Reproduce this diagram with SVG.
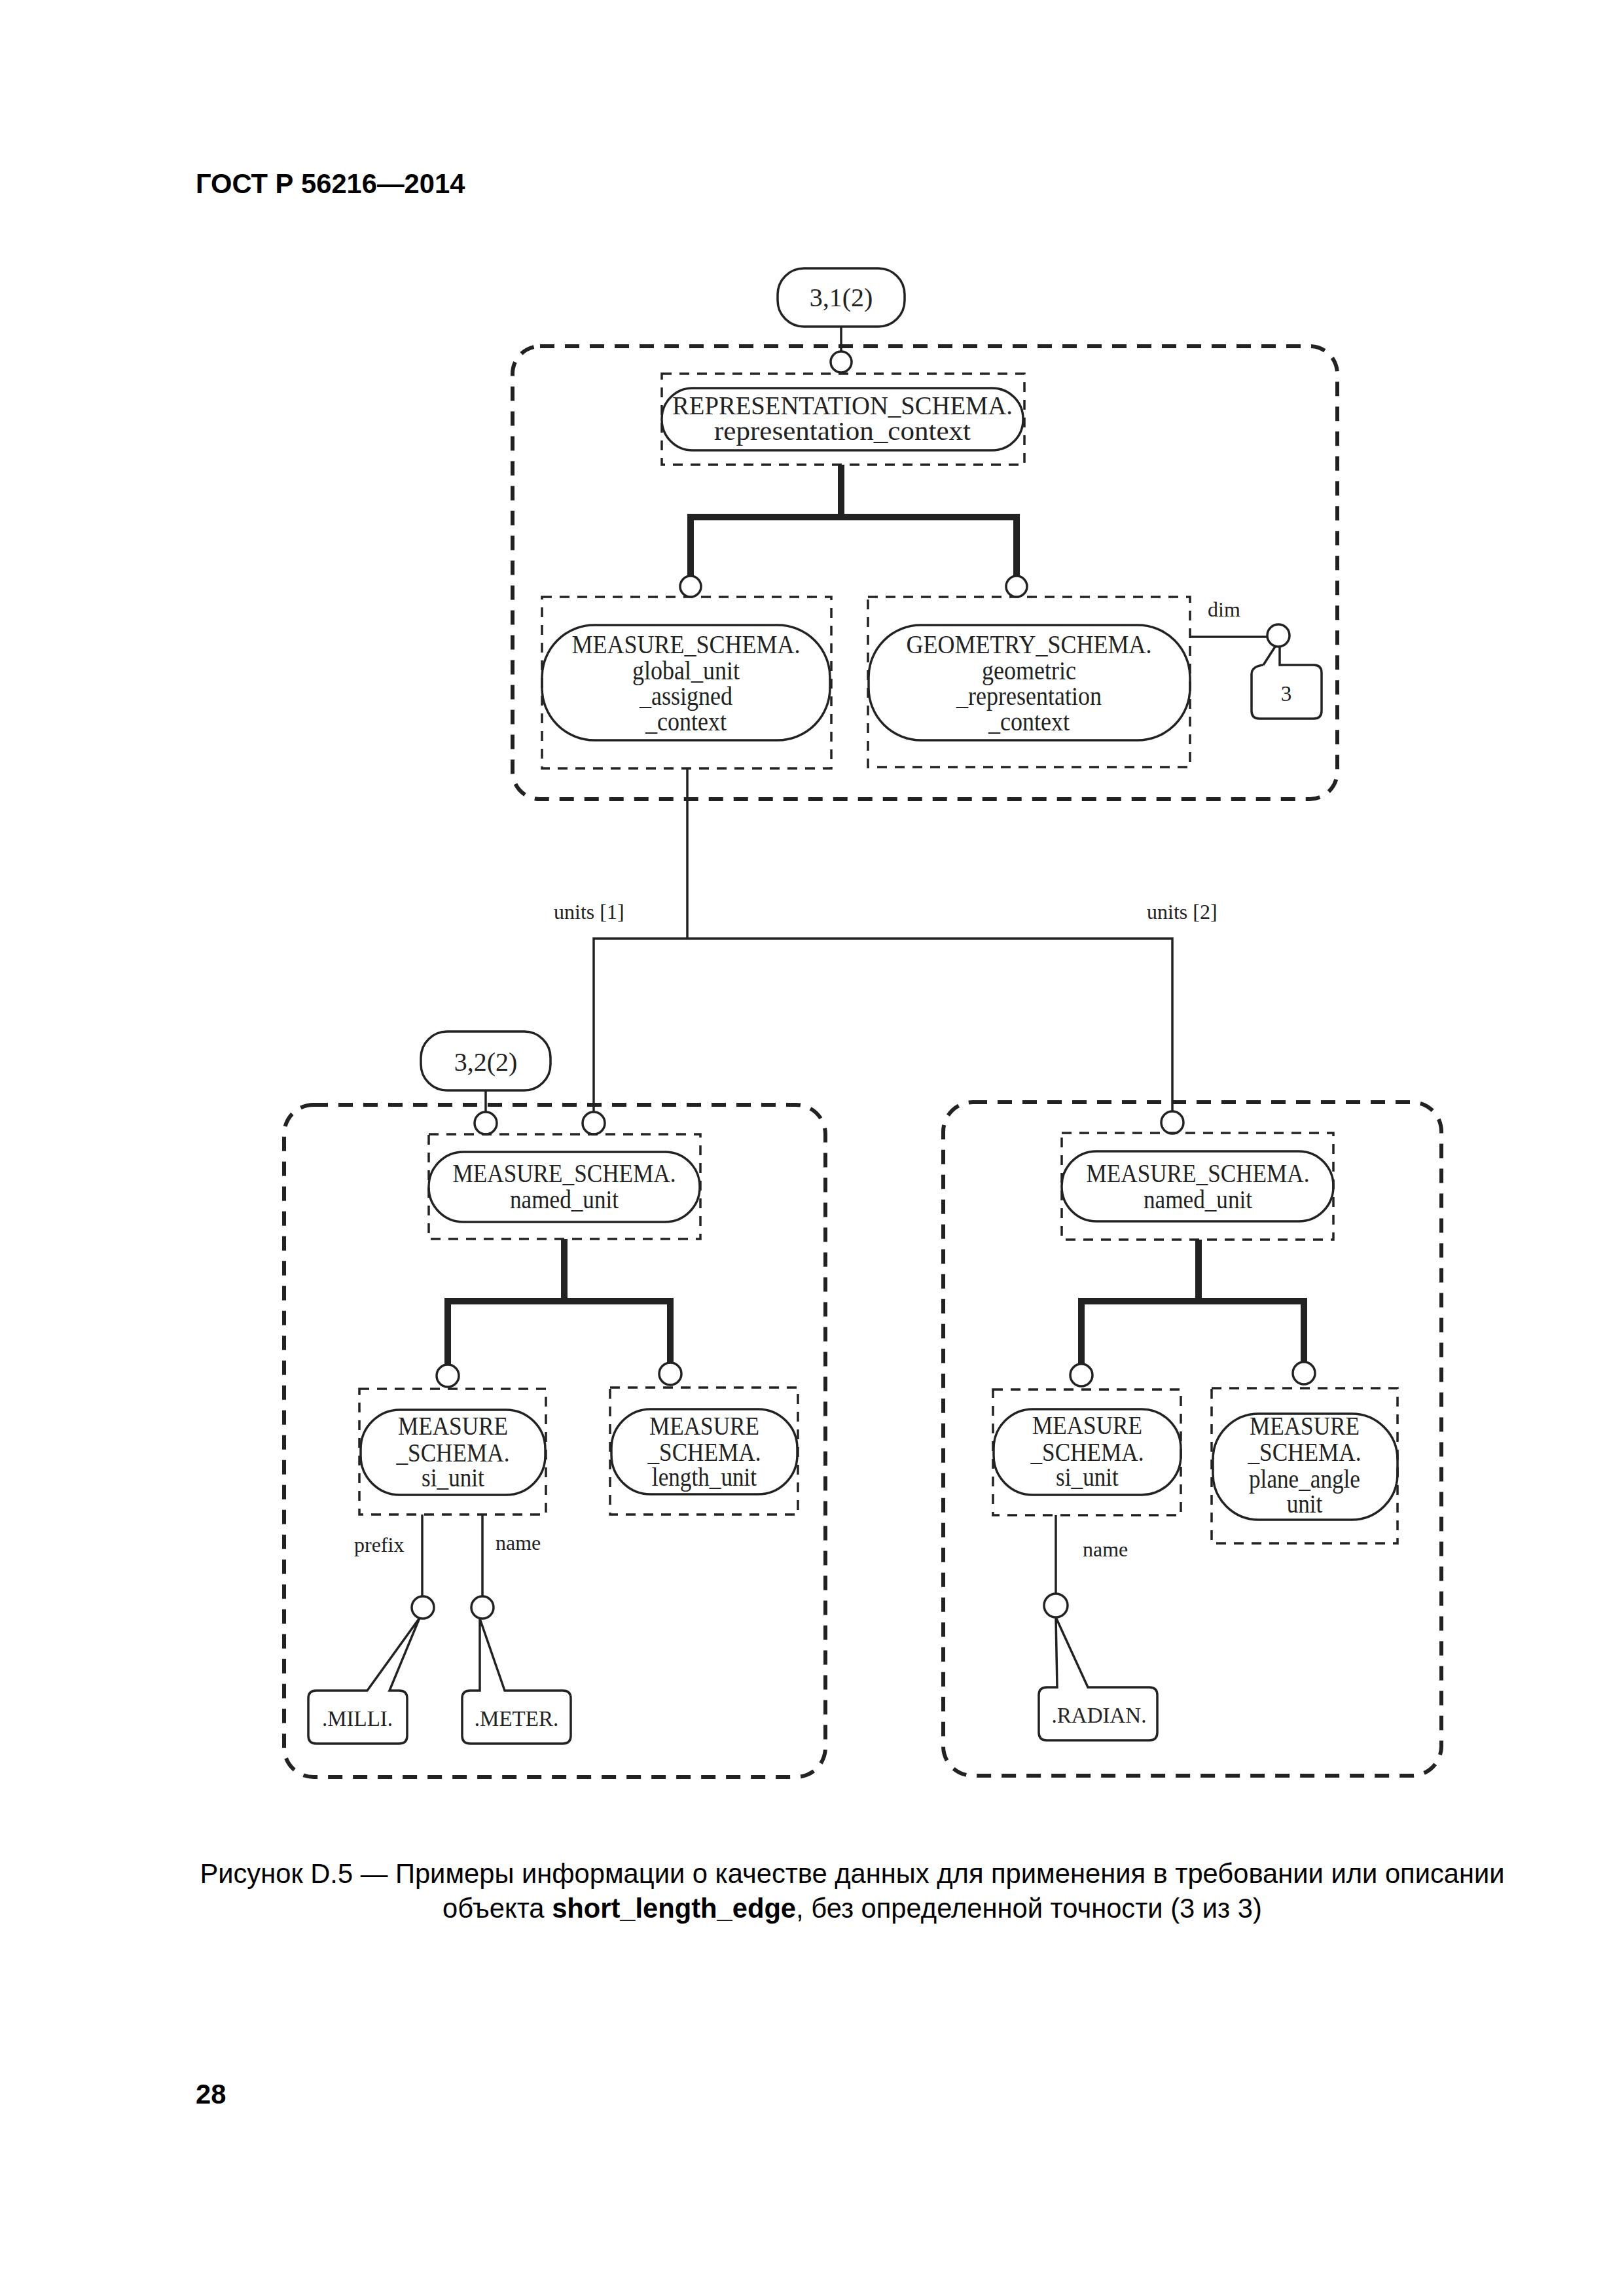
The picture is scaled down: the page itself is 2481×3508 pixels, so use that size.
<svg xmlns="http://www.w3.org/2000/svg" width="2481" height="3508" viewBox="0 0 2481 3508">
<style>
.outer{fill:none;stroke:#222;stroke-width:6;stroke-dasharray:22 16}
.inner{fill:none;stroke:#222;stroke-width:3.5;stroke-dasharray:15 12}
.pill{fill:none;stroke:#222;stroke-width:3.5}
.ref{fill:#fff;stroke:#222;stroke-width:3.5}
.circ{fill:#fff;stroke:#222;stroke-width:3.5}
.thick{fill:none;stroke:#222;stroke-width:10}
.thin{fill:none;stroke:#222;stroke-width:3.5}
.t{font-family:"Liberation Serif","Times New Roman",serif;font-size:40px;fill:#222;text-anchor:middle}
.s{font-family:"Liberation Serif","Times New Roman",serif;font-size:32px;fill:#222}
.v{font-family:"Liberation Serif","Times New Roman",serif;font-size:33px;fill:#222;text-anchor:middle}
.cap{font-family:"Liberation Sans",Arial,sans-serif;font-size:41.7px;fill:#000}
</style>
<rect width="2481" height="3508" fill="#fff"/>
<text id="header" x="299" y="295" class="cap" font-weight="bold">ГОСТ Р 56216—2014</text>

<g id="group-top"><rect class="outer" x="783" y="529" width="1260" height="692" rx="42"/></g>
<g id="group-left"><rect class="outer" x="434" y="1688" width="827" height="1027" rx="45"/></g>
<g id="group-right"><rect class="outer" x="1441" y="1684" width="761" height="1029" rx="45"/></g>

<g id="connectors">
  <path class="thin" d="M1285 499 V537"/>
  <path class="thick" d="M1285 710 V790 M1055 880 V790 H1553 V880"/>
  <path class="thin" d="M1818 973 H1936"/>
  <path class="thin" d="M1050 1174 V1434 M907 1699 V1434 H1791 V1698"/>
  <path class="thin" d="M742 1666 V1700"/>
  <path class="thick" d="M862 1893 V1988 M684 2085 V1988 H1024 V2082"/>
  <path class="thin" d="M645 2314 V2439 M737 2314 V2439"/>
  <path class="thick" d="M1831 1894 V1988 M1652 2084 V1988 H1992 V2081"/>
  <path class="thin" d="M1613 2315 V2435"/>
  <circle class="circ" cx="1285" cy="553" r="16"/>
  <circle class="circ" cx="1055" cy="896" r="16"/>
  <circle class="circ" cx="1553" cy="896" r="16"/>
  <circle class="circ" cx="1953" cy="971" r="17"/>
  <circle class="circ" cx="742" cy="1716" r="17"/>
  <circle class="circ" cx="907" cy="1716" r="17"/>
  <circle class="circ" cx="1791" cy="1715" r="17"/>
  <circle class="circ" cx="684" cy="2102" r="17"/>
  <circle class="circ" cx="1024" cy="2099" r="17"/>
  <circle class="circ" cx="1652" cy="2101" r="17"/>
  <circle class="circ" cx="1992" cy="2098" r="17"/>
  <circle class="circ" cx="646" cy="2456" r="17"/>
  <circle class="circ" cx="737" cy="2456" r="17"/>
  <circle class="circ" cx="1613" cy="2453" r="18"/>
  <text class="s" x="1845" y="942">dim</text>
  <text class="s" x="846" y="1404">units [1]</text>
  <text class="s" x="1752" y="1404">units [2]</text>
  <text class="s" x="541" y="2371">prefix</text>
  <text class="s" x="757" y="2368">name</text>
  <text class="s" x="1654" y="2378">name</text>
</g>

<g id="ref-3-1-2">
  <rect class="ref" x="1188" y="410" width="194" height="89" rx="40"/>
  <text class="t" x="1285" y="468" font-size="38">3,1(2)</text>
</g>
<g id="representation_context">
  <rect class="inner" x="1011" y="571" width="554" height="139"/>
  <rect class="pill" x="1011" y="593" width="552" height="95" rx="47"/>
  <text class="t" x="1287" y="633" font-size="35" textLength="520" lengthAdjust="spacingAndGlyphs">REPRESENTATION_SCHEMA.</text>
  <text class="t" x="1287" y="672" font-size="35" textLength="392" lengthAdjust="spacingAndGlyphs">representation_context</text>
</g>
<g id="global_unit_assigned_context">
  <rect class="inner" x="828" y="912" width="442" height="262"/>
  <rect class="pill" x="828" y="955" width="440" height="176" rx="80"/>
  <g transform="translate(1048 0) scale(0.9 1)">
    <text class="t" x="0" y="998">MEASURE_SCHEMA.</text>
    <text class="t" x="0" y="1038">global_unit</text>
    <text class="t" x="0" y="1077">_assigned</text>
    <text class="t" x="0" y="1116">_context</text>
  </g>
</g>
<g id="geometric_representation_context">
  <rect class="inner" x="1326" y="912" width="492" height="260"/>
  <rect class="pill" x="1327" y="955" width="491" height="176" rx="80"/>
  <g transform="translate(1572 0) scale(0.9 1)">
    <text class="t" x="0" y="998">GEOMETRY_SCHEMA.</text>
    <text class="t" x="0" y="1038">geometric</text>
    <text class="t" x="0" y="1077">_representation</text>
    <text class="t" x="0" y="1116">_context</text>
  </g>
</g>
<g id="value-3">
  <path class="pill" d="M1930 1016 L1948 988 M1955 988 V1016 H2007 Q2019 1016 2019 1028 V1086 Q2019 1098 2007 1098 H1924 Q1912 1098 1912 1086 V1030 Q1912 1018 1930 1016"/>
  <text class="v" x="1965" y="1071">3</text>
</g>

<g id="ref-3-2-2">
  <rect class="ref" x="643" y="1576" width="198" height="90" rx="40"/>
  <text class="t" x="742" y="1636" font-size="38">3,2(2)</text>
</g>
<g id="named_unit_1">
  <rect class="inner" x="655" y="1733" width="415" height="160"/>
  <rect class="pill" x="655" y="1760" width="414" height="107" rx="53"/>
  <g transform="translate(862 0) scale(0.88 1)">
    <text class="t" x="0" y="1806">MEASURE_SCHEMA.</text>
    <text class="t" x="0" y="1846">named_unit</text>
  </g>
</g>
<g id="si_unit_1">
  <rect class="inner" x="549" y="2122" width="285" height="192"/>
  <rect class="pill" x="551" y="2154" width="282" height="130" rx="60"/>
  <g transform="translate(692 0) scale(0.88 1)">
    <text class="t" x="0" y="2192">MEASURE</text>
    <text class="t" x="0" y="2233">_SCHEMA.</text>
    <text class="t" x="0" y="2271">si_unit</text>
  </g>
</g>
<g id="length_unit">
  <rect class="inner" x="932" y="2120" width="287" height="194"/>
  <rect class="pill" x="934" y="2153" width="284" height="130" rx="60"/>
  <g transform="translate(1076 0) scale(0.88 1)">
    <text class="t" x="0" y="2192">MEASURE</text>
    <text class="t" x="0" y="2232">_SCHEMA.</text>
    <text class="t" x="0" y="2270">length_unit</text>
  </g>
</g>
<g id="value-milli">
  <path class="pill" d="M561 2583 L641 2472 L595 2583 H610 Q622 2583 622 2595 V2652 Q622 2664 610 2664 H483 Q471 2664 471 2652 V2595 Q471 2583 483 2583 Z"/>
  <text class="v" x="546" y="2637">.MILLI.</text>
</g>
<g id="value-meter">
  <path class="pill" d="M733 2583 L733 2473 L771 2583 H860 Q872 2583 872 2595 V2652 Q872 2664 860 2664 H718 Q706 2664 706 2652 V2595 Q706 2583 718 2583 Z"/>
  <text class="v" x="789" y="2637">.METER.</text>
</g>

<g id="named_unit_2">
  <rect class="inner" x="1622" y="1731" width="415" height="163"/>
  <rect class="pill" x="1622" y="1759" width="415" height="107" rx="53"/>
  <g transform="translate(1830 0) scale(0.88 1)">
    <text class="t" x="0" y="1806">MEASURE_SCHEMA.</text>
    <text class="t" x="0" y="1846">named_unit</text>
  </g>
</g>
<g id="si_unit_2">
  <rect class="inner" x="1517" y="2123" width="287" height="192"/>
  <rect class="pill" x="1518" y="2153" width="286" height="131" rx="60"/>
  <g transform="translate(1661 0) scale(0.88 1)">
    <text class="t" x="0" y="2191">MEASURE</text>
    <text class="t" x="0" y="2232">_SCHEMA.</text>
    <text class="t" x="0" y="2270">si_unit</text>
  </g>
</g>
<g id="plane_angle_unit">
  <rect class="inner" x="1851" y="2121" width="284" height="237"/>
  <rect class="pill" x="1853" y="2160" width="282" height="162" rx="70"/>
  <g transform="translate(1993 0) scale(0.88 1)">
    <text class="t" x="0" y="2192">MEASURE</text>
    <text class="t" x="0" y="2232">_SCHEMA.</text>
    <text class="t" x="0" y="2273">plane_angle</text>
    <text class="t" x="0" y="2311">unit</text>
  </g>
</g>
<g id="value-radian">
  <path class="pill" d="M1615 2578 L1613 2471 L1662 2578 H1756 Q1768 2578 1768 2590 V2647 Q1768 2659 1756 2659 H1599 Q1587 2659 1587 2647 V2590 Q1587 2578 1599 2578 Z"/>
  <text class="v" x="1679" y="2632">.RADIAN.</text>
</g>

<g id="caption">
  <text class="cap" x="1302" y="2877" text-anchor="middle">Рисунок D.5 — Примеры информации о качестве данных для применения в требовании или описании</text>
  <text class="cap" x="1302" y="2930" text-anchor="middle">объекта <tspan font-weight="bold">short_length_edge</tspan>, без определенной точности (3 из 3)</text>
</g>
<text id="page-number" class="cap" x="299" y="3214" font-weight="bold">28</text>
</svg>
